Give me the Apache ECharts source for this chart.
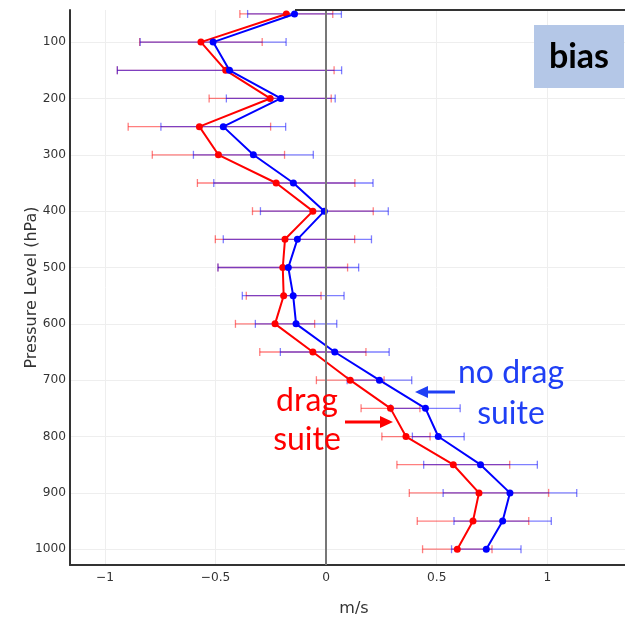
<!DOCTYPE html>
<html><head><meta charset="utf-8">
<script src="https://cdn.jsdelivr.net/npm/echarts@6/dist/echarts.min.js"></script>
<style>html,body{margin:0;padding:0;background:#fff}#c{width:625px;height:620px}</style>
</head><body><div id="c"></div>
<script>
const levels = [50,100,150,200,250,300,350,400,450,500,550,600,650,700,750,800,850,900,950,1000];
const dragBias = [-0.18,-0.566,-0.454,-0.253,-0.573,-0.487,-0.226,-0.060,-0.186,-0.196,-0.192,-0.231,-0.060,0.109,0.291,0.361,0.575,0.691,0.664,0.593];
const dragErr = [0.21,0.277,0.49,0.276,0.322,0.299,0.356,0.273,0.315,0.293,0.169,0.179,0.24,0.153,0.133,0.109,0.255,0.315,0.252,0.157];
const noDragBias = [-0.143,-0.511,-0.437,-0.205,-0.465,-0.329,-0.148,-0.008,-0.130,-0.171,-0.149,-0.136,0.039,0.241,0.449,0.507,0.698,0.831,0.798,0.724];
const noDragErr = [0.212,0.33,0.507,0.246,0.282,0.271,0.36,0.289,0.335,0.318,0.23,0.184,0.246,0.146,0.157,0.117,0.257,0.302,0.22,0.157];
const xTicks = [-1,-0.5,0,0.5,1];
const yTicks = [100,200,300,400,500,600,700,800,900,1000];

const RED = '#ff0000', BLUE = '#0000ff';
const tickFont = {fontFamily:'DejaVu Sans', fontSize:12.2, color:'#333'};

function errSeries(vals, errs, color){
  return {
    type:'custom', z:2, silent:true,
    data: levels.map((l,i)=>[vals[i], l, errs[i]]),
    encode:{x:0,y:1},
    renderItem:(params, api)=>{
      const v = api.value(0), l = api.value(1), e = api.value(2);
      const a = api.coord([v-e, l]), b = api.coord([v+e, l]);
      const st = {stroke: color, lineWidth:1.3, opacity:0.5};
      return {type:'group', children:[
        {type:'line', shape:{x1:a[0],y1:a[1],x2:b[0],y2:b[1]}, style:st},
        {type:'line', shape:{x1:a[0],y1:a[1]-4,x2:a[0],y2:a[1]+4}, style:st},
        {type:'line', shape:{x1:b[0],y1:b[1]-4,x2:b[0],y2:b[1]+4}, style:st}
      ]};
    }
  };
}
function lineSeries(vals, color, z){
  return {
    type:'line', z:z, data: levels.map((l,i)=>[vals[i], l]),
    symbol:'circle', symbolSize:7, itemStyle:{color:color},
    lineStyle:{color:color, width:2}, animation:false
  };
}
const minusFmt = v => String(v).replace('-', '\u2212');

const chart = echarts.init(document.getElementById('c'));
chart.setOption({
  animation:false,
  grid:{left:70, top:10, width:568, height:555, containLabel:false, outerBoundsMode:'none'},
  xAxis:{
    type:'value', min:-1.158, max:1.41,
    axisLine:{show:true, onZero:false, lineStyle:{color:'#333', width:2}},
    axisTick:{show:false, customValues:xTicks},
    axisLabel:Object.assign({customValues:xTicks, formatter:minusFmt, margin:7}, tickFont),
    splitLine:{show:true, lineStyle:{color:'#eeeeee', width:1}},
    name:'m/s', nameLocation:'middle', nameGap:36, nameMoveOverlap:false,
    nameTextStyle:{fontFamily:'DejaVu Sans', fontSize:16, color:'#333'}
  },
  yAxis:{
    type:'value', inverse:true, min:43, max:1028,
    axisLine:{show:true, onZero:false, lineStyle:{color:'#333', width:2}},
    axisTick:{show:false, customValues:yTicks},
    axisLabel:Object.assign({customValues:yTicks, margin:4, formatter:v=>String(v)}, tickFont),
    splitLine:{show:true, lineStyle:{color:'#eeeeee', width:1}},
    name:'Pressure Level (hPa)', nameLocation:'middle', nameGap:30, nameMoveOverlap:false,
    nameTextStyle:{fontFamily:'DejaVu Sans', fontSize:16, color:'#333'}
  },
  series:[
    Object.assign(errSeries(dragBias, dragErr, RED), {
      markLine:{silent:true, symbol:'none', label:{show:false},
        lineStyle:{color:'#777', width:2, type:'solid'}, data:[{xAxis:0}], animation:false}
    }),
    errSeries(noDragBias, noDragErr, BLUE),
    lineSeries(dragBias, RED, 3),
    lineSeries(noDragBias, BLUE, 4)
  ],
  graphic:[
    {type:'line', shape:{x1:295,y1:10,x2:625,y2:10}, style:{stroke:'#333', lineWidth:2}, z:10},
    {type:'rect', shape:{x:534,y:25,width:90,height:63}, style:{fill:'#b4c7e7'}, z:10},
    {type:'text', x:579, y:57, z:11, style:{text:'bias', fill:'#000', font:'bold 34px Lato', align:'center', verticalAlign:'middle'}},
    {type:'text', x:511, y:373, z:11, style:{text:'no drag', fill:'#1f3ff5', font:'32px Lato', align:'center', verticalAlign:'middle'}},
    {type:'text', x:511, y:414, z:11, style:{text:'suite', fill:'#1f3ff5', font:'32px Lato', align:'center', verticalAlign:'middle'}},
    {type:'text', x:307, y:401, z:11, style:{text:'drag', fill:'#ff0000', font:'32px Lato', align:'center', verticalAlign:'middle'}},
    {type:'text', x:307, y:440, z:11, style:{text:'suite', fill:'#ff0000', font:'32px Lato', align:'center', verticalAlign:'middle'}},
    {type:'line', shape:{x1:455,y1:392,x2:425,y2:392}, style:{stroke:'#1f3ff5', lineWidth:3}, z:11},
    {type:'polygon', shape:{points:[[415,392],[428,386],[428,398]]}, style:{fill:'#1f3ff5'}, z:11},
    {type:'line', shape:{x1:345,y1:422,x2:382,y2:422}, style:{stroke:'#ff0000', lineWidth:3}, z:11},
    {type:'polygon', shape:{points:[[393,422],[380,416],[380,428]]}, style:{fill:'#ff0000'}, z:11}
  ]
});
</script></body></html>
